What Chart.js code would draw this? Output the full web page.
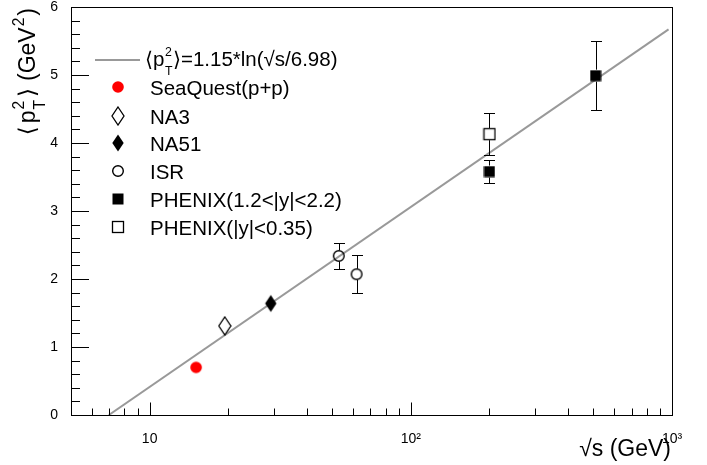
<!DOCTYPE html>
<html><head><meta charset="utf-8">
<script src="https://cdn.jsdelivr.net/npm/chart.js@4"></script>
<style>html,body{margin:0;padding:0;background:#fff}#wrap{width:707px;height:465px}</style>
</head><body><div id="wrap"><canvas id="c" width="707" height="465"></canvas></div>
<script>
const FONT = '"Liberation Sans", Arial, Helvetica, "DejaVu Sans", sans-serif';

// ---- data ----
const seaquestSqrtS = [15.06];   const seaquestPt2 = [0.70];        const seaquestErr = [0];
const na3SqrtS      = [19.4];    const na3Pt2      = [1.31];        const na3Err      = [0];
const na51SqrtS     = [29.1];    const na51Pt2     = [1.64];        const na51Err     = [0];
const isrSqrtS      = [53, 62];  const isrPt2      = [2.34, 2.07];  const isrErr      = [0.19, 0.28];
const phenixFwdSqrtS = [200, 510]; const phenixFwdPt2 = [3.58, 4.99]; const phenixFwdErr = [0.17, 0.51];
const phenixMidSqrtS = [200];    const phenixMidPt2 = [4.13];       const phenixMidErr = [0.31];
const fitSqrtS = [6.98, 970];    const fitPt2 = [0, 5.67];

const legendLabels = ['SeaQuest(p+p)', 'NA3', 'NA51', 'ISR', 'PHENIX(1.2<|y|<2.2)', 'PHENIX(|y|<0.35)'];
const xTickValues = [10, 100, 1000];
const xTickLabels = ['10', '10\u00B2', '10\u00B3'];
const xMinorTicks = [6, 7, 8, 9, 20, 30, 40, 50, 60, 70, 80, 90, 200, 300, 400, 500, 600, 700, 800, 900];
const yTickValues = [0, 1, 2, 3, 4, 5, 6];

const toPts = (xs, ys) => xs.map((v, i) => ({x: v, y: ys[i]}));

// ---- markers ----
function mk(w, h, draw) { const c = document.createElement('canvas'); c.width = w; c.height = h; draw(c.getContext('2d')); return c; }
const mRedCircle = mk(14, 14, g => { g.fillStyle = '#ff0000'; g.beginPath(); g.arc(7, 7, 5.8, 0, 2 * Math.PI); g.fill(); });
const mOpenCircle = mk(14, 14, g => { g.strokeStyle = '#000'; g.lineWidth = 1.4; g.beginPath(); g.arc(7, 7, 5.3, 0, 2 * Math.PI); g.stroke(); });
const mOpenDiamond = mk(14, 20, g => { g.fillStyle = '#fff'; g.strokeStyle = '#000'; g.lineWidth = 1.3; g.beginPath(); g.moveTo(7, 1); g.lineTo(13, 10); g.lineTo(7, 19); g.lineTo(1, 10); g.closePath(); g.fill(); g.stroke(); });
const mFillDiamond = mk(14, 20, g => { g.fillStyle = '#000'; g.beginPath(); g.moveTo(7, 1.5); g.lineTo(12.7, 10); g.lineTo(7, 18.5); g.lineTo(1.3, 10); g.closePath(); g.fill(); });
const mFillSquare = mk(12, 12, g => { g.fillStyle = '#000'; g.fillRect(0.5, 0.5, 11, 11); });
const mOpenSquare = mk(14, 14, g => { g.fillStyle = '#fff'; g.fillRect(1.5, 1.5, 11, 11); g.strokeStyle = '#000'; g.lineWidth = 1.3; g.strokeRect(1.5, 1.5, 11, 11); });

function ptDs(label, xs, ys, errs, marker, gap) {
  return {label, data: toPts(xs, ys), errors: errs, gap, pointStyle: marker, pointRadius: 6, order: 0, legendMarker: marker};
}

// ---- rich text helper ----
function drawRich(ctx, x, y, parts, size, measureOnly, scr) {
  const sr = scr || 0.6;
  let cx = x;
  ctx.textAlign = 'left'; ctx.textBaseline = 'alphabetic'; ctx.fillStyle = '#000';
  for (const p of parts) {
    if (p.t !== undefined) {
      ctx.font = size + 'px ' + FONT;
      if (!measureOnly) ctx.fillText(p.t, cx, y);
      cx += ctx.measureText(p.t).width + (p.sp || 0);
    } else {
      const s = size * sr; ctx.font = s + 'px ' + FONT; let w = 0;
      cx += (p.pre || 0);
      if (p.sup) { if (!measureOnly) ctx.fillText(p.sup, cx, y - size * 0.5); w = Math.max(w, ctx.measureText(p.sup).width); }
      if (p.sub) { if (!measureOnly) ctx.fillText(p.sub, cx, y + size * 0.42); w = Math.max(w, ctx.measureText(p.sub).width); }
      cx += w + (p.sp || 0);
    }
  }
  return cx - x;
}

// ---- plugins ----
const errPlugin = {
  id: 'errbars',
  afterDatasetsDraw(chart) {
    const {ctx, scales: {x, y}} = chart;
    ctx.save(); ctx.strokeStyle = '#000'; ctx.lineWidth = 1;
    chart.data.datasets.forEach(ds => {
      if (!ds.errors) return;
      ds.data.forEach((p, i) => {
        const e = ds.errors[i]; if (!e) return;
        const px = Math.round(x.getPixelForValue(p.x)) + 0.5, py = y.getPixelForValue(p.y);
        const top = Math.round(y.getPixelForValue(p.y + e)) + 0.5, bot = Math.round(y.getPixelForValue(p.y - e)) + 0.5;
        const g = ds.gap, c = 5.5;
        ctx.beginPath();
        ctx.moveTo(px, top); ctx.lineTo(px, py - g);
        ctx.moveTo(px, py + g); ctx.lineTo(px, bot);
        ctx.moveTo(px - c, top); ctx.lineTo(px + c, top);
        ctx.moveTo(px - c, bot); ctx.lineTo(px + c, bot);
        ctx.stroke();
      });
    });
    ctx.restore();
  }
};

const framePlugin = {
  id: 'frame',
  afterDraw(chart) {
    const {ctx, chartArea: a, scales: {x, y}} = chart;
    ctx.save();
    ctx.strokeStyle = '#000'; ctx.lineWidth = 1;
    ctx.strokeRect(a.left + 0.5, a.top + 0.5, a.right - a.left, a.bottom - a.top);
    ctx.beginPath();
    for (let k = 0; k <= 30; k++) {
      const v = k * 0.2; const py = Math.round(y.getPixelForValue(v)) + 0.5;
      const len = (k % 5 === 0) ? 18 : 9;
      ctx.moveTo(a.left, py); ctx.lineTo(a.left + len, py);
    }
    const bx = a.bottom + 0.5;
    xTickValues.forEach(v => { const px = Math.round(x.getPixelForValue(v)) + 0.5; ctx.moveTo(px, bx); ctx.lineTo(px, bx - 13); });
    xMinorTicks.forEach(v => { const px = Math.round(x.getPixelForValue(v)) + 0.5; ctx.moveTo(px, bx); ctx.lineTo(px, bx - 7); });
    ctx.stroke();

    // x title
    const xt = [{t: '\u221As (GeV)'}];
    const wx = drawRich(ctx, 0, 0, xt, 23, true);
    drawRich(ctx, 671 - wx, 456, xt, 23);

    // y title (rotated)
    const yt = [{t: '\u27E8', sp: 3}, {t: 'p', sp: 0}, {sup: '2', sub: 'T', pre: 1, sp: 3}, {t: '\u27E9', sp: 7}, {t: '(GeV'}, {sup: '2', pre: 1, sp: 2}, {t: ')'}];
    const wy = drawRich(ctx, 0, 0, yt, 23, true, 0.68);
    ctx.save(); ctx.translate(35, 8 + wy); ctx.rotate(-Math.PI / 2);
    drawRich(ctx, 0, 0, yt, 23, false, 0.68);
    ctx.restore();

    // legend
    ctx.strokeStyle = '#999'; ctx.lineWidth = 2;
    ctx.beginPath(); ctx.moveTo(95, 60); ctx.lineTo(140, 60); ctx.stroke();
    drawRich(ctx, 145, 66, [{t: '\u27E8p', sp: 0.5}, {sup: '2', sub: 'T', sp: 0.5}, {t: '\u27E9=1.15*ln(\u221As/6.98)'}], 20.5);
    const ys = [87, 116, 143, 171, 199, 227];
    const pds = chart.data.datasets.filter(d => d.legendMarker);
    pds.forEach((d, i) => {
      const m = d.legendMarker;
      ctx.drawImage(m, Math.round(118 - m.width / 2), Math.round(ys[i] - m.height / 2));
      drawRich(ctx, 150, ys[i] + 7.5, [{t: d.label}], 20.5);
    });
    ctx.restore();
  }
};

new Chart(document.getElementById('c'), {
  type: 'scatter',
  data: {
    datasets: [
      {label: 'fit', type: 'line', data: toPts(fitSqrtS, fitPt2), borderColor: '#999999', borderWidth: 2, pointRadius: 0, fill: false, tension: 0, order: 5},
      ptDs(legendLabels[0], seaquestSqrtS, seaquestPt2, seaquestErr, mRedCircle, 6),
      ptDs(legendLabels[1], na3SqrtS, na3Pt2, na3Err, mOpenDiamond, 9),
      ptDs(legendLabels[2], na51SqrtS, na51Pt2, na51Err, mFillDiamond, 9),
      ptDs(legendLabels[3], isrSqrtS, isrPt2, isrErr, mOpenCircle, 5.5),
      ptDs(legendLabels[4], phenixFwdSqrtS, phenixFwdPt2, phenixFwdErr, mFillSquare, 6),
      ptDs(legendLabels[5], phenixMidSqrtS, phenixMidPt2, phenixMidErr, mOpenSquare, 6)
    ]
  },
  options: {
    responsive: false, animation: false, events: [],
    layout: {padding: {top: 5, right: 35, left: 0, bottom: 0}},
    plugins: {legend: {display: false}, tooltip: {enabled: false}},
    scales: {
      x: {
        type: 'logarithmic', min: 5, max: 1000,
        grid: {display: false}, border: {display: false},
        afterBuildTicks: s => { s.ticks = xTickValues.map(v => ({value: v})); },
        afterFit: s => { s.height = 50; s.paddingLeft = 0; s.paddingRight = 0; },
        ticks: {autoSkip: false, maxRotation: 0, padding: 8, color: '#000', font: {family: FONT, size: 14},
          callback: v => { const i = xTickValues.indexOf(v); return i >= 0 ? xTickLabels[i] : ''; }}
      },
      y: {
        min: 0, max: 6,
        grid: {display: false}, border: {display: false},
        afterBuildTicks: s => { s.ticks = yTickValues.map(v => ({value: v})); },
        afterFit: s => { s.width = 71; s.paddingTop = 0; s.paddingBottom = 0; },
        ticks: {padding: 5, color: '#000', font: {family: FONT, size: 14}, callback: v => String(v)}
      }
    }
  },
  plugins: [errPlugin, framePlugin]
});
</script></body></html>
